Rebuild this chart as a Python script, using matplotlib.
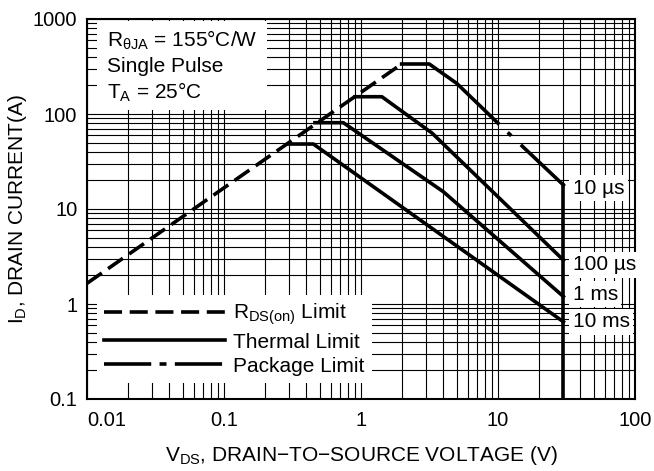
import matplotlib
matplotlib.use("Agg")
import matplotlib.pyplot as plt
from matplotlib.lines import Line2D
from matplotlib.patches import Rectangle

plt.rcParams['font.family'] = ['Liberation Sans', 'DejaVu Sans']
plt.rcParams['mathtext.fontset'] = 'custom'
plt.rcParams['mathtext.rm'] = 'Liberation Sans'
plt.rcParams['mathtext.it'] = 'Liberation Sans'
plt.rcParams['mathtext.default'] = 'regular'
plt.rcParams['lines.scale_dashes'] = False

# RDS(on) limit (dashed)
rds_v = [0.01, 1.98]
rds_i = [1.65, 336]

# thermal limit curves
t10us_v = [1.98, 3.15, 5.0, 10.0]
t10us_i = [336, 336, 210, 80]
pkg_v = [10.0, 15.0]          # package limit piece (dash-dot)
pkg_i = [80, 46]
t10us_tail_v = [15.0, 30.0]
t10us_tail_i = [46, 17.9]

t100us_v = [0.904, 1.42, 3.3, 30.0]
t100us_i = [152, 152, 63, 2.9]

t1ms_v = [0.461, 0.743, 3.99, 30.0]
t1ms_i = [81, 81, 15.2, 1.2]

t10ms_v = [0.295, 0.449, 30.0]
t10ms_i = [48.3, 48.3, 0.65]

vdss = 30.0

curve_labels = ['10 \u00b5s', '100 \u00b5s', '1 ms', '10 ms']
label_i = [16.6, 2.58, 1.27, 0.65]

xticks = [0.01, 0.1, 1, 10, 100]
xticklabels = ['0.01', '0.1', '1', '10', '100']
yticks = [0.1, 1, 10, 100, 1000]
yticklabels = ['0.1', '1', '10', '100', '1000']

fig = plt.figure(figsize=(6.54, 4.71), dpi=100)
ax = fig.add_axes([87 / 654, 72 / 471, 548 / 654, 380 / 471])
ax.set_xscale('log')
ax.set_yscale('log')
ax.set_xlim(0.01, 100)
ax.set_ylim(0.1, 1000)

ax.grid(True, which='both', color='black', lw=0.8)
ax.set_xticks(xticks, xticklabels)
ax.set_yticks(yticks, yticklabels)
ax.xaxis.set_minor_formatter(plt.NullFormatter())
ax.yaxis.set_minor_formatter(plt.NullFormatter())
ax.tick_params(which='both', length=0, labelsize=14.5)
ax.tick_params(axis='x', pad=9)
ax.tick_params(axis='y', pad=7)
ax.get_xticklabels()[0].set_ha('left')
for s in ax.spines.values():
    s.set_linewidth(1.5)

lw = 2.6
ax.plot(rds_v, rds_i, color='black', lw=lw, linestyle=(0, (13, 5.5)), zorder=4)
for v, i in [(t10us_v, t10us_i), (t10us_tail_v, t10us_tail_i), (t100us_v, t100us_i),
             (t1ms_v, t1ms_i), (t10ms_v, t10ms_i)]:
    ax.plot(v, i, color='black', lw=lw, zorder=4)
ax.plot(pkg_v, pkg_i, color='black', lw=lw, linestyle=(13, (3.6, 19)), zorder=4)
ax.plot([vdss, vdss], [0.1, t10us_tail_i[-1]], color='black', lw=lw, zorder=4)

for lab, yi in zip(curve_labels, label_i):
    ax.text(35, yi, lab, fontsize=15, ha='left', va='center', zorder=3,
            bbox=dict(fc='white', ec='none', pad=2.5))

# conditions box
ax.add_patch(Rectangle((0.018, 0.761), 0.31, 0.234, transform=ax.transAxes,
                       fc='white', ec='none', zorder=2.5))
cond = [r'R$_{\theta JA}$ = 155°C/W', 'Single Pulse', r'T$_{A}$ = 25°C']
for k, t in enumerate(cond):
    ax.text(0.0365, 0.944 - k * 0.069, t, transform=ax.transAxes, fontsize=15,
            va='center', ha='left', zorder=3)

handles = [Line2D([], [], color='black', lw=lw, linestyle=(0, (13, 5.5))),
           Line2D([], [], color='black', lw=lw),
           Line2D([], [], color='black', lw=lw, linestyle=(0, (34, 6, 5, 6)))]
leg = ax.legend(handles, [r'R$_{DS(on)}$ Limit', 'Thermal Limit', 'Package Limit'],
                loc='lower left', bbox_to_anchor=(0.018, 0.042), borderaxespad=0,
                fontsize=15, handlelength=5.8, handletextpad=0.4, borderpad=0.35,
                labelspacing=0.25, frameon=True, fancybox=False, framealpha=1,
                facecolor='white', edgecolor='none')
leg.set_zorder(5)

ax.set_xlabel('V$_{DS}$, DRAIN\u2212TO\u2212SOURCE VOLTAGE (V)', fontsize=15)
ax.xaxis.set_label_coords(0.5, -0.118)
ax.set_ylabel('I$_{D}$, DRAIN CURRENT(A)', fontsize=15)
ax.yaxis.set_label_coords(-0.105, 0.5)

fig.savefig('out.png', dpi=100)
